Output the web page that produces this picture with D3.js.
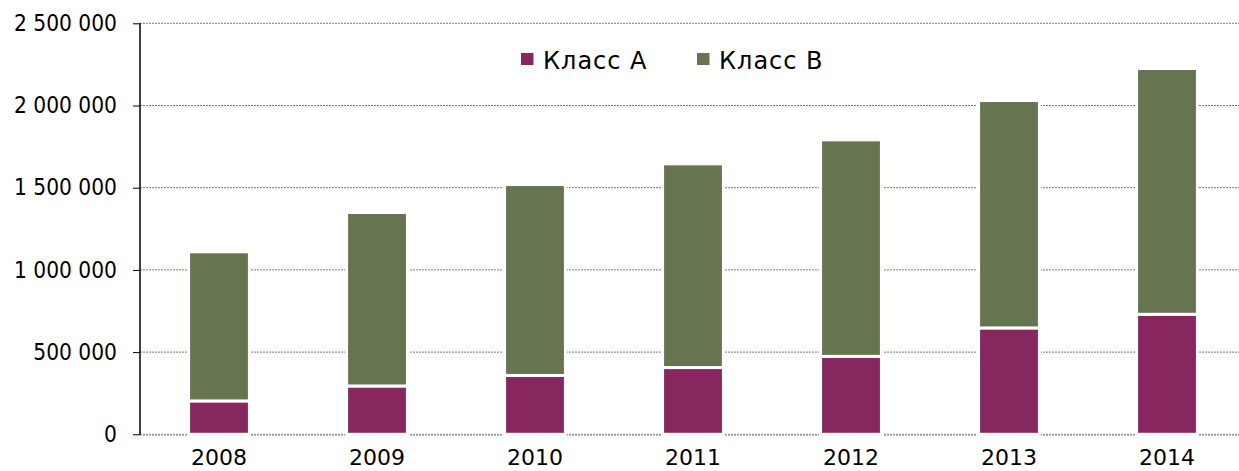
<!DOCTYPE html>
<html>
<head>
<meta charset="utf-8">
<script src="https://cdn.jsdelivr.net/npm/d3@7"></script>
<style>
  body { margin: 0; background: #fff; }
  text { fill: #000; }
</style>
</head>
<body>
<div class="chart"></div>
<script>
// data
var years = ['2008', '2009', '2010', '2011', '2012', '2013', '2014'];
var classA = [203000, 294000, 358000, 406000, 474000, 647000, 730000];
var classB = [907000, 1055000, 1161000, 1239000, 1317000, 1383000, 1495000];
var seriesNames = ['Класс A', 'Класс B'];
var colors = ['#87275f', '#66744f'];
var yTicks = [0, 500000, 1000000, 1500000, 2000000, 2500000];

var width = 1239, height = 471;

var svg = d3.select('.chart')
  .append('svg')
  .attr('width', width)
  .attr('height', height);

var x = d3.scaleBand()
  .domain(years)
  .range([140, 1246])
  .paddingInner(0.615)
  .paddingOuter(0.3075);

var y = d3.scaleLinear()
  .domain([0, 2500000])
  .range([434.3, 23.3]);

// thousands with spaces: 2 500 000
var fmt = function(v){
  return d3.format(',')(v).replace(/,/g, ' ');
};

// gridlines
svg.append('g')
  .selectAll('line')
  .data(yTicks.filter(function(d){ return d > 0; }))
  .enter()
  .append('line')
  .attr('x1', 140)
  .attr('x2', 1246)
  .attr('y1', function(d){ return y(d); })
  .attr('y2', function(d){ return y(d); })
  .attr('stroke', '#7a7a7a')
  .attr('stroke-width', 1)
  .attr('stroke-dasharray', '2,1');

// zero line
svg.append('line')
  .attr('x1', 140)
  .attr('x2', 1246)
  .attr('y1', y(0) + 0.5)
  .attr('y2', y(0) + 0.5)
  .attr('stroke', '#a0a0a0')
  .attr('stroke-width', 2)
  .attr('stroke-dasharray', '2,1');

// stack the two classes
var rows = years.map(function(yr, i){
  return { year: yr, a: classA[i], b: classB[i] };
});
var stacked = d3.stack().keys(['a', 'b'])(rows);

svg.append('g')
  .selectAll('g')
  .data(stacked)
  .enter()
  .append('g')
  .attr('fill', function(d, i){ return colors[i]; })
  .selectAll('rect')
  .data(function(d){ return d; })
  .enter()
  .append('rect')
  .attr('x', function(d){ return x(d.data.year); })
  .attr('width', x.bandwidth())
  .attr('y', function(d){ return y(d[1]); })
  .attr('height', function(d){ return y(d[0]) - y(d[1]); })
  .attr('stroke', '#fff')
  .attr('stroke-width', 3);

// y axis
var yAxis = svg.append('g')
  .attr('transform', 'translate(140,0)')
  .call(d3.axisLeft(y).tickValues(yTicks).tickFormat(fmt).tickSize(7).tickPadding(16));
yAxis.select('.domain').attr('stroke', '#000').attr('stroke-width', 1.5)
  .attr('d', 'M0,' + y(2500000) + 'V' + (y(0) + 0.5));
yAxis.selectAll('.tick line').attr('stroke', '#000');
yAxis.selectAll('.tick text')
  .style('font-family', '"DejaVu Sans Condensed", "DejaVu Sans", sans-serif')
  .style('font-stretch', 'condensed')
  .style('font-size', '22.5px')
  .attr('fill', '#000');

// x labels
svg.append('g')
  .selectAll('text')
  .data(years)
  .enter()
  .append('text')
  .attr('x', function(d){ return x(d) + x.bandwidth() / 2; })
  .attr('y', 465)
  .attr('text-anchor', 'middle')
  .style('font-family', '"DejaVu Sans", sans-serif')
  .style('font-size', '22px')
  .text(function(d){ return d; });

// legend
var legendX = [521, 697];
var legend = svg.append('g')
  .selectAll('g')
  .data(seriesNames)
  .enter()
  .append('g')
  .attr('transform', function(d, i){ return 'translate(' + legendX[i] + ',53)'; });

legend.append('rect')
  .attr('width', 12.5)
  .attr('height', 12)
  .attr('fill', function(d, i){ return colors[i]; });

legend.append('text')
  .attr('x', 22)
  .attr('y', 16)
  .style('font-family', '"DejaVu Sans", sans-serif')
  .style('font-size', '24px')
  .style('letter-spacing', '1px')
  .text(function(d){ return d; });
</script>
</body>
</html>
